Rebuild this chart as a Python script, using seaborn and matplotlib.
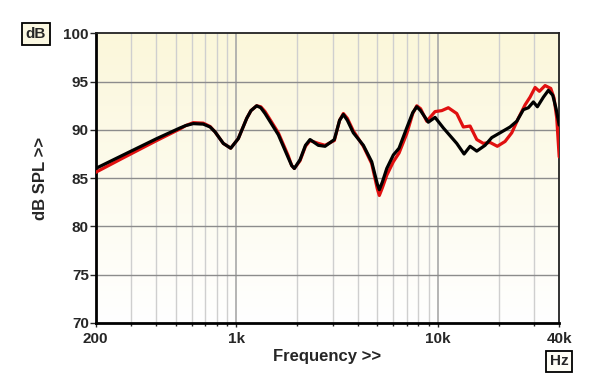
import numpy as np
import pandas as pd
import matplotlib
matplotlib.use("Agg")
import matplotlib.pyplot as plt
import seaborn as sns
from matplotlib.colors import LinearSegmentedColormap
import matplotlib.ticker as ticker

# valores (Hz, dB)
freq_negro = [200, 274, 402, 524, 560, 610, 684, 740, 782, 860, 936, 1021, 1124, 1180, 1259,
              1320, 1386, 1613, 1808, 1880, 1937, 2067, 2200, 2318, 2548, 2752, 3060, 3250,
              3393, 3550, 3802, 4264, 4690, 5000, 5118, 5300, 5572, 6008, 6412, 7000, 7500,
              7852, 8200, 8960, 9676, 10640, 12400, 13485, 14444, 15590, 17140, 18500,
              20350, 22800, 24630, 26560, 28120, 29780, 31170, 33400, 35340, 37150, 38600,
              40000]
db_negro = [86.0, 87.4, 89.1, 90.2, 90.45, 90.65, 90.6, 90.3, 89.8, 88.6, 88.1, 89.1, 91.2,
            92.0, 92.5, 92.3, 91.7, 89.5, 87.1, 86.3, 86.0, 86.9, 88.4, 89.0, 88.4, 88.3,
            89.0, 91.0, 91.6, 91.0, 89.7, 88.4, 86.7, 84.4, 83.8, 84.6, 86.0, 87.4, 88.1,
            90.2, 91.8, 92.4, 92.0, 90.8, 91.3, 90.2, 88.6, 87.5, 88.3, 87.8, 88.4, 89.2,
            89.7, 90.3, 90.9, 92.1, 92.3, 92.9, 92.4, 93.4, 94.1, 93.6, 92.2, 90.5]

freq_rojo = [200, 274, 402, 524, 560, 610, 684, 740, 782, 860, 936, 1021, 1124, 1180, 1259,
             1320, 1386, 1613, 1808, 1880, 1937, 2067, 2200, 2318, 2548, 2752, 3060, 3250,
             3393, 3550, 3802, 4264, 4690, 5000, 5118, 5300, 5572, 6008, 6412, 7000, 7500,
             7852, 8200, 8800, 9676, 10450, 11260, 12400, 13370, 14444, 15590, 16800,
             18140, 19720, 21540, 23260, 25070, 27080, 28670, 30370, 31900, 34040, 36330,
             37720, 38900, 40000]
db_rojo = [85.6, 87.1, 88.9, 90.1, 90.45, 90.75, 90.7, 90.35, 89.8, 88.6, 88.1, 89.1, 91.2,
           92.0, 92.5, 92.4, 91.9, 89.7, 87.3, 86.3, 86.0, 86.8, 88.3, 88.9, 88.6, 88.4,
           88.9, 91.0, 91.7, 91.2, 89.9, 88.3, 86.5, 83.9, 83.2, 84.0, 85.3, 86.7, 87.6,
           89.6, 91.7, 92.5, 92.2, 90.9, 91.9, 92.0, 92.3, 91.7, 90.3, 90.4, 89.0, 88.6,
           88.7, 88.3, 88.8, 89.7, 91.2, 92.6, 93.4, 94.4, 94.0, 94.6, 94.3, 93.3, 91.2,
           87.2]

ticks_y = [70, 75, 80, 85, 90, 95, 100]
ticks_x = [200, 1000, 10000, 40000]
etiquetas_x = ["200", "1k", "10k", "40k"]

df = pd.concat([
    pd.DataFrame({"freq": freq_rojo, "db": db_rojo, "serie": "rojo"}),
    pd.DataFrame({"freq": freq_negro, "db": db_negro, "serie": "negro"}),
])

sns.set_style("ticks")
plt.rcParams["font.family"] = ["Liberation Sans", "DejaVu Sans"]

fig = plt.figure(figsize=(6, 3.89), dpi=100)
ax = fig.add_axes([0.1595, 0.1704, 0.7725, 0.7435])

# fondo degradado crema -> blanco
cmap_fondo = LinearSegmentedColormap.from_list("fondo", ["#ffffff", "#fbf7da"])
ax.imshow(np.linspace(0, 1, 256)[:, None], extent=[0, 1, 0, 1], transform=ax.transAxes,
          cmap=cmap_fondo, aspect="auto", origin="lower", zorder=0)

sns.lineplot(data=df, x="freq", y="db", hue="serie", palette={"rojo": "#e01010", "negro": "black"},
             linewidth=2.3, legend=False, ax=ax, zorder=3, sort=False,
             solid_joinstyle="round", solid_capstyle="round")

ax.set_xscale("log")
ax.set_xlim(200, 40000)
ax.set_ylim(70, 100)

# grilla
minor_x = [f for dec in (100, 1000, 10000) for f in range(2 * dec, 10 * dec, dec)]
minor_x = [f for f in minor_x if 200 < f < 40000 and f not in (1000, 10000)]
for f in minor_x:
    ax.axvline(f, color="#cfcfcf", lw=1.0, zorder=1)
for f in (1000, 10000):
    ax.axvline(f, color="#a8a8a8", lw=1.2, zorder=1)
for v in ticks_y[1:-1]:
    ax.axhline(v, color="#8c8c8c", lw=1.0, zorder=1)

ax.set_yticks(ticks_y)
ax.set_xticks(ticks_x)
ax.set_xticklabels(etiquetas_x)
ax.xaxis.set_minor_locator(ticker.FixedLocator(minor_x))
ax.xaxis.set_minor_formatter(ticker.NullFormatter())
ax.tick_params(axis="y", length=4, width=1, pad=1, labelsize=11)
ax.tick_params(axis="x", which="major", length=3, width=1, pad=4, labelsize=11)
ax.tick_params(axis="x", which="minor", length=2, width=1)
for lab in ax.get_xticklabels() + ax.get_yticklabels():
    lab.set_fontweight("bold")

for lado in ("left", "bottom"):
    ax.spines[lado].set_linewidth(2)
    ax.spines[lado].set_color("black")
for lado in ("top", "right"):
    ax.spines[lado].set_visible(True)
    ax.spines[lado].set_linewidth(1.3)
    ax.spines[lado].set_color("#222222")

ax.set_xlabel("Frequency >>", fontsize=12, fontweight="bold", labelpad=2)
ax.set_ylabel("dB SPL >>", fontsize=12, fontweight="bold", labelpad=11)

caja = dict(boxstyle="square,pad=0.25", facecolor="#fbf8e2", edgecolor="black", linewidth=1.3)
fig.text(0.06, 0.913, "dB", fontsize=11, fontweight="bold", ha="center", va="center", bbox=caja)
fig.text(0.932, 0.071, "Hz", fontsize=11, fontweight="bold", ha="center", va="center",
         bbox=dict(caja, facecolor="#fffef6"))

fig.savefig("out.png", dpi=100)
